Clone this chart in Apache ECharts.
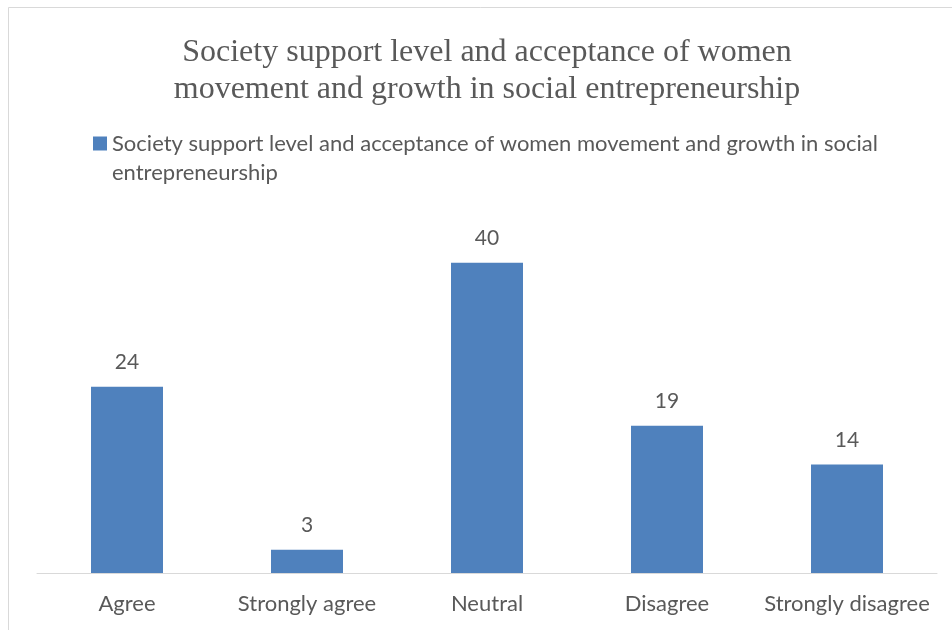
<!DOCTYPE html>
<html>
<head>
<meta charset="utf-8">
<script src="https://cdn.jsdelivr.net/npm/echarts@6/dist/echarts.min.js"></script>
<style>
  html, body { margin: 0; padding: 0; background: #fff; }
  #chart { width: 952px; height: 630px; }
</style>
</head>
<body>
<div id="chart"></div>
<script>
// Survey responses
const categories = ['Agree', 'Strongly agree', 'Neutral', 'Disagree', 'Strongly disagree'];
const values = [24, 3, 40, 19, 14];
const seriesName = 'Society support level and acceptance of women movement and growth in social entrepreneurship';
const titleLines = ['Society support level and acceptance of women', 'movement and growth in social entrepreneurship'];
const legendLines = ['Society support level and acceptance of women movement and growth in social', 'entrepreneurship'];

const textColor = '#595959';
const sansFont = 'Lato, "Open Sans", sans-serif';

const chart = echarts.init(document.getElementById('chart'), null, { renderer: 'canvas' });

chart.setOption({
  animation: false,
  backgroundColor: '#fff',
  graphic: [{
    type: 'rect',
    shape: { x: 8.5, y: 7.5, width: 960, height: 640 },
    style: { fill: 'none', stroke: '#d9d9d9', lineWidth: 1 },
    silent: true
  }],
  title: {
    text: titleLines.join('\n'),
    left: 482,
    textAlign: 'center',
    top: 29,
    textStyle: {
      fontFamily: '"Liberation Serif", "DejaVu Serif", serif',
      fontSize: 32,
      fontWeight: 'normal',
      color: textColor,
      lineHeight: 37
    }
  },
  legend: {
    data: [seriesName],
    left: 88,
    top: 95,
    itemWidth: 14,
    itemHeight: 14,
    itemGap: 6,
    icon: 'rect',
    // leading blank line keeps the swatch level with the first text line
    formatter: () => '\n' + legendLines.join('\n'),
    textStyle: {
      fontFamily: sansFont,
      fontSize: 22,
      color: textColor,
      lineHeight: 29
    }
  },
  grid: {
    left: 37,
    right: 15,
    top: 224,
    bottom: 57,
    containLabel: false
  },
  xAxis: {
    type: 'category',
    data: categories,
    axisLine: { lineStyle: { color: '#d9d9d9', width: 1 } },
    axisTick: { show: false },
    axisLabel: {
      color: textColor,
      fontFamily: sansFont,
      fontSize: 22,
      margin: 20,
      interval: 0
    }
  },
  yAxis: {
    type: 'value',
    min: 0,
    max: 45,
    show: false,
    splitLine: { show: false }
  },
  series: [{
    name: seriesName,
    type: 'bar',
    data: values,
    barWidth: 72,
    itemStyle: { color: '#4f81bd' },
    label: {
      show: true,
      position: 'top',
      distance: 14,
      color: textColor,
      fontFamily: sansFont,
      fontSize: 21
    }
  }]
});
</script>
</body>
</html>
